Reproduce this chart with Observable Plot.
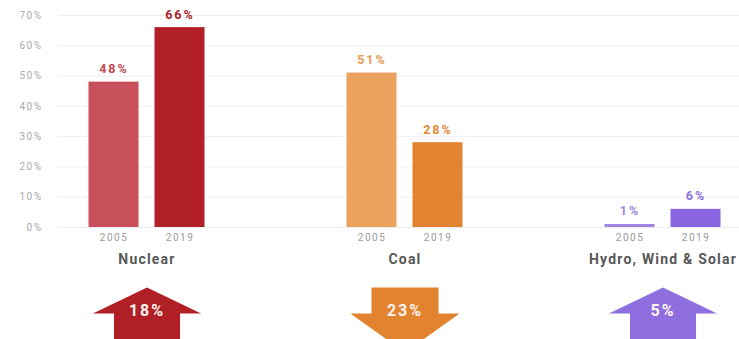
<!DOCTYPE html>
<html>
<head>
<meta charset="utf-8">
<script src="https://cdn.jsdelivr.net/npm/d3@7"></script>
<script src="https://cdn.jsdelivr.net/npm/@observablehq/plot@0.6"></script>
<style>
  html, body { margin: 0; padding: 0; background: #fff; overflow: hidden; }
  #chart svg { display: block; }
</style>
</head>
<body>
<div id="chart"></div>
<script>
// ---- data ----
const categories = ["Nuclear", "Coal", "Hydro, Wind & Solar"];
const share2005 = [48, 51, 1];
const share2019 = [66, 28, 6];
const change = [18, -23, 5];
const yearLabels = ["2005", "2019"];
const yTicks = [0, 10, 20, 30, 40, 50, 60, 70];

// ---- colours ----
const bar2005Colors = ["#c8505a", "#eda15f", "#9d87e2"];
const bar2019Colors = ["#b11f27", "#e2832f", "#8b64e2"];
const label2005Colors = ["#bf4853", "#e99a55", "#9a88d8"];
const label2019Colors = ["#a8232a", "#e08a3a", "#8e72dc"];
const arrowColors = ["#b11f27", "#e2832f", "#8f6fe0"];

const rows = categories.map((c, i) => ({
  category: c,
  v2005: share2005[i],
  v2019: share2019[i],
  change: change[i],
  c2005: bar2005Colors[i],
  c2019: bar2019Colors[i],
  l2005: label2005Colors[i],
  l2019: label2019Colors[i],
  arrow: arrowColors[i]
}));

// arrow glyphs (shape scaled by r)
const upArrow = {
  draw(ctx, size) {
    const r = Math.sqrt(size / Math.PI);
    ctx.moveTo(0, -r);
    ctx.lineTo(2.08 * r, 0);
    ctx.lineTo(1.27 * r, 0);
    ctx.lineTo(1.27 * r, 1.1 * r);
    ctx.lineTo(-1.27 * r, 1.1 * r);
    ctx.lineTo(-1.27 * r, 0);
    ctx.lineTo(-2.08 * r, 0);
    ctx.closePath();
  }
};
const downArrow = {
  draw(ctx, size) {
    const r = Math.sqrt(size / Math.PI);
    ctx.moveTo(-1.29 * r, -r);
    ctx.lineTo(1.29 * r, -r);
    ctx.lineTo(1.29 * r, 0);
    ctx.lineTo(2.1 * r, 0);
    ctx.lineTo(0, 1.5 * r);
    ctx.lineTo(-2.1 * r, 0);
    ctx.lineTo(-1.29 * r, 0);
    ctx.closePath();
  }
};

const pct = (v) => v + "%";
const font = "Roboto, 'DejaVu Sans', sans-serif";

const chart = Plot.plot({
  width: 739,
  height: 339,
  marginLeft: 58,
  marginRight: 0,
  marginTop: 15,
  marginBottom: 112,
  style: { fontFamily: font, background: "#fff", overflow: "hidden" },
  x: {
    domain: categories,
    range: [17.5, 791.5],
    paddingInner: 0.5504,
    paddingOuter: 0.2752,
    round: false,
    axis: null
  },
  y: { domain: [0, 70], axis: null },
  color: { type: "identity" },
  marks: [
    Plot.gridY(yTicks, { stroke: "#eeeeee", strokeOpacity: 1 }),
    Plot.axisY(yTicks, {
      tickSize: 0,
      tickPadding: 16,
      tickFormat: pct,
      fontSize: 10,
      fill: "#a8a8a8",
      label: null
    }),
    Plot.barY(rows, { x: "category", y: "v2005", fill: "c2005", insetRight: 66 }),
    Plot.barY(rows, { x: "category", y: "v2019", fill: "c2019", insetLeft: 66 }),
    Plot.text(rows, {
      x: "category", y: "v2005", text: (d) => pct(d.v2005),
      dx: -33, dy: -13, fill: "l2005", fontSize: 12.5, fontWeight: "bold"
    }),
    Plot.text(rows, {
      x: "category", y: "v2019", text: (d) => pct(d.v2019),
      dx: 33, dy: -13, fill: "l2019", fontSize: 12.5, fontWeight: "bold"
    }),
    Plot.text(rows, {
      x: "category", text: () => yearLabels[0], frameAnchor: "bottom",
      dx: -33, dy: 13, fill: "#9a9a9a", fontSize: 10
    }),
    Plot.text(rows, {
      x: "category", text: () => yearLabels[1], frameAnchor: "bottom",
      dx: 33, dy: 13, fill: "#9a9a9a", fontSize: 10
    }),
    Plot.text(rows, {
      x: "category", text: "category", frameAnchor: "bottom",
      dy: 36, fill: "#585858", fontSize: 14, fontWeight: "bold"
    }),
    Plot.dot(rows.filter((d) => d.change > 0), {
      x: "category", frameAnchor: "bottom", dy: 86, r: 26,
      symbol: upArrow, fill: "arrow", stroke: "none"
    }),
    Plot.dot(rows.filter((d) => d.change < 0), {
      x: "category", frameAnchor: "bottom", dy: 86, r: 26,
      symbol: downArrow, fill: "arrow", stroke: "none"
    }),
    Plot.text(rows, {
      x: "category", text: (d) => pct(Math.abs(d.change)), frameAnchor: "bottom",
      dy: 88, fill: "#fff4f0", fontSize: 16, fontWeight: "bold"
    })
  ]
});

// letter spacing to mimic the wide typeface of the original
const spacing = ["2px", "2px", "1.5px", "1.5px", "1.2px", "2px"];
d3.select(chart).selectAll('g[aria-label="text"]').each(function (_, i) {
  d3.select(this).style("letter-spacing", spacing[i] || "1px");
});
d3.select(chart).selectAll('g[aria-label="y-axis tick label"]').style("letter-spacing", "1.5px");

document.getElementById("chart").appendChild(chart);
</script>
</body>
</html>
